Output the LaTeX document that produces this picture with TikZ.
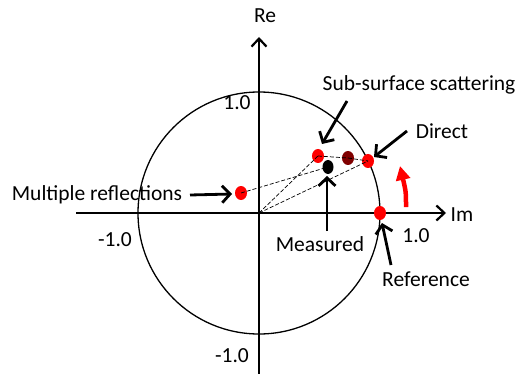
\documentclass[tikz,border=0pt]{standalone}
\usepackage{fontspec}
\setmainfont{Carlito}
\usetikzlibrary{arrows.meta,shapes.geometric}
\definecolor{darkred}{RGB}{128,0,0}
\begin{document}
\begin{tikzpicture}[x=1pt,y=-1pt,
  dotnode/.style={ellipse, minimum width=12pt, minimum height=14pt, inner sep=0pt, fill=red},
  lbl/.style={font=\fontsize{21.5}{24}\selectfont, inner sep=0pt},
  axis/.style={line width=2.2pt, -{Straight Barb[length=8pt,width=15pt,line width=2.2pt]}},
  callout/.style={line width=2.8pt, -{Straight Barb[length=8pt,width=17pt,line width=2.8pt]}},
  guide/.style={line width=0.7pt, dash pattern=on 4pt off 2pt}]
\useasboundingbox (0,0) rectangle (524,374);
% circle
\coordinate (O) at (259,213);
\draw[line width=1.3pt] (O) circle[radius=121];
% axes
\coordinate (xs) at (76,213);
\coordinate (xe) at (446,213);
\coordinate (ys) at (259,374);
\coordinate (ye) at (259,37);
\draw[axis] (xs) -- (xe);
\draw[axis] (ys) -- (ye);
% axis labels
\node[lbl] (re) at (265,16) {Re};
\node[lbl] (im) at (462,215) {Im};
\node[lbl] (t1) at (237,103) {1.0};
\node[lbl] (l1) at (115,240) {-1.0};
\node[lbl] (r1) at (416,236) {1.0};
\node[lbl] (b1) at (232,356) {-1.0};
% dots
\node[dotnode] (mult) at (241,193) {};
\node[dotnode] (sub) at (318,156) {};
\node[dotnode, fill=darkred] (dr) at (348,158) {};
\node[dotnode] (dir) at (368,161) {};
\node[dotnode, fill=black, minimum width=11pt] (meas) at (328,167) {};
\node[dotnode] (ref) at (380,213) {};
% dashed guides
\draw[guide] (O) -- (sub.center);
\draw[guide] (O) -- (dir.center);
\draw[guide] (mult.center) -- (meas.center);
\draw[guide] (sub.center) -- (dr.center);
\draw[guide] (dr.center) -- (dir.center);
% labels
\node[lbl] (tsub) at (419,85) {Sub-surface scattering};
\node[lbl] (tdir) at (442,131) {Direct};
\node[lbl] (tmult) at (97,195) {Multiple reflections};
\node[lbl] (tmeas) at (320,244) {Measured};
\node[lbl] (tref) at (426,279) {Reference};
% callouts
\coordinate (csub) at (347,101);
\coordinate (cdir) at (407,131);
\coordinate (cmult) at (190,195);
\coordinate (cmeas) at (327,231);
\coordinate (cref) at (391,265);
\draw[callout] (csub) -- (322,144);
\draw[callout] (cdir) -- (374,157);
\draw[callout] (cmult) -- (232,194);
\draw[callout] (cmeas) -- (327,176);
\draw[callout] (cref) -- (382,223);
% red rotation arrow
\coordinate (ra) at (406,207);
\coordinate (rb) at (400,166);
\draw[red, line width=4.5pt, -{Triangle[length=14pt,width=14pt]}] (ra) .. controls (406,192) .. (rb);
\end{tikzpicture}
\end{document}
